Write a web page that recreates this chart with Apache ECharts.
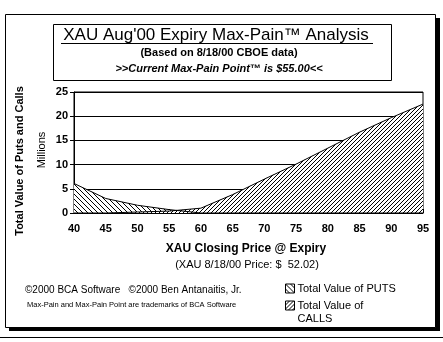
<!DOCTYPE html>
<html>
<head>
<meta charset="utf-8">
<script src="https://cdn.jsdelivr.net/npm/echarts@6/dist/echarts.min.js"></script>
<style>
  html, body { margin: 0; padding: 0; background: #fff; }
  #chart { width: 443px; height: 342px; }
</style>
</head>
<body>
<div id="chart"></div>
<script>
// strike prices on the x axis
const prices = ['40', '45', '50', '55', '60', '65', '70', '75', '80', '85', '90', '95'];
// total value in millions
const putsValue = [6.1, 3.0, 1.6, 0.7, 0, 0, 0, 0, 0, 0, 0, 0];
const callsValue = [0, 0, 0.2, 0.4, 1.0, 3.8, 7.0, 10.1, 13.4, 16.7, 19.7, 22.5];
const yTicks = { min: 0, max: 25, interval: 5 };

// little hatch tiles, like the old excel fills
function hatch(size, forward) {
    const c = document.createElement('canvas');
    c.width = size;
    c.height = size;
    const ctx = c.getContext('2d');
    ctx.fillStyle = '#fff';
    ctx.fillRect(0, 0, size, size);
    ctx.fillStyle = '#000';
    for (let i = 0; i < size; i++) {
        ctx.fillRect(i, forward ? size - 1 - i : i, 1, 1);
    }
    return { image: c, repeat: 'repeat' };
}

const putsFill = hatch(5, false);
const callsFill = hatch(4, true);

const font = 'Liberation Sans, Arial, sans-serif';
const myChart = echarts.init(document.getElementById('chart'), null, { renderer: 'canvas' });

const option = {
    animation: false,
    backgroundColor: '#fff',
    grid: {
        left: 74,
        right: 20,
        top: 92,
        bottom: 129,
        show: true,
        borderColor: '#000',
        borderWidth: 1
    },
    xAxis: {
        type: 'category',
        data: prices,
        boundaryGap: false,
        axisLine: { lineStyle: { color: '#000', width: 1 } },
        axisTick: { inside: true, length: 4, lineStyle: { color: '#000' } },
        axisLabel: {
            color: '#000',
            fontFamily: font,
            fontWeight: 'bold',
            fontSize: 11,
            margin: 10
        },
        splitLine: { show: false }
    },
    yAxis: {
        type: 'value',
        min: yTicks.min,
        max: yTicks.max,
        interval: yTicks.interval,
        axisLine: { show: true, lineStyle: { color: '#000', width: 1 } },
        axisTick: { show: true, length: 4, lineStyle: { color: '#000' } },
        axisLabel: {
            color: '#000',
            fontFamily: font,
            fontWeight: 'bold',
            fontSize: 11,
            margin: 6
        },
        splitLine: { show: true, lineStyle: { color: '#000', width: 1 } }
    },
    legend: {
        orient: 'vertical',
        left: 285,
        top: 282,
        width: 140,
        height: 120,
        padding: 0,
        itemWidth: 9,
        itemHeight: 9,
        itemGap: -9,
        icon: 'rect',
        textStyle: { color: '#000', fontFamily: font, fontSize: 11, lineHeight: 13, padding: [0, 0, 0, -2] },
        // the calls label wraps; a blank first line keeps the box beside "Total Value of"
        formatter: name => name === 'Total Value of CALLS' ? '\nTotal Value of\nCALLS' : name,
        data: [
            { name: 'Total Value of PUTS', itemStyle: { color: putsFill, borderColor: '#000', borderWidth: 1 } },
            { name: 'Total Value of CALLS', itemStyle: { color: callsFill, borderColor: '#000', borderWidth: 1 } }
        ]
    },
    series: [
        {
            name: 'Total Value of PUTS',
            type: 'line',
            data: putsValue,
            showSymbol: false,
            lineStyle: { color: '#000', width: 1 },
            itemStyle: { color: '#000' },
            areaStyle: { color: putsFill, opacity: 1 }
        },
        {
            name: 'Total Value of CALLS',
            type: 'line',
            data: callsValue,
            showSymbol: false,
            lineStyle: { color: '#000', width: 1 },
            itemStyle: { color: '#000' },
            areaStyle: { color: callsFill, opacity: 1 }
        }
    ],
    graphic: [
        // outer frame with drop shadow
        { type: 'rect', shape: { x: 9, y: 18, width: 431, height: 313 }, style: { fill: '#000' }, z: -10 },
        { type: 'rect', shape: { x: 5.5, y: 14.5, width: 430, height: 313 }, style: { fill: '#fff', stroke: '#000', lineWidth: 1 }, z: -9 },
        { type: 'line', shape: { x1: 0, y1: 337.5, x2: 443, y2: 337.5 }, style: { stroke: '#000', lineWidth: 1 } },
        // title box
        { type: 'rect', shape: { x: 53.5, y: 24.5, width: 338, height: 56 }, style: { fill: '#fff', stroke: '#000', lineWidth: 1 } },
        {
            type: 'text', x: 216, y: 35,
            style: { text: 'XAU Aug\'00 Expiry Max-Pain\u2122 Analysis', font: '17px ' + font, fill: '#000', align: 'center', verticalAlign: 'middle' }
        },
        { type: 'line', shape: { x1: 61, y1: 43.5, x2: 373, y2: 43.5 }, style: { stroke: '#000', lineWidth: 1 } },
        {
            type: 'text', x: 219, y: 53,
            style: { text: '(Based on 8/18/00 CBOE data)', font: 'bold 11px ' + font, fill: '#000', align: 'center', verticalAlign: 'middle' }
        },
        {
            type: 'text', x: 219, y: 69,
            style: { text: '>>Current Max-Pain Point\u2122 is $55.00<<', font: 'italic bold 11px ' + font, fill: '#000', align: 'center', verticalAlign: 'middle' }
        },
        // y axis titles
        {
            type: 'text', x: 20, y: 161, rotation: Math.PI / 2,
            style: { text: 'Total Value of Puts and Calls', font: 'bold 11px ' + font, fill: '#000', align: 'center', verticalAlign: 'middle' }
        },
        {
            type: 'text', x: 42, y: 150, rotation: Math.PI / 2,
            style: { text: 'Millions', font: '11px ' + font, fill: '#000', align: 'center', verticalAlign: 'middle' }
        },
        // x axis titles
        {
            type: 'text', x: 246, y: 249,
            style: { text: 'XAU Closing Price @ Expiry', font: 'bold 12px ' + font, fill: '#000', align: 'center', verticalAlign: 'middle' }
        },
        {
            type: 'text', x: 247, y: 265,
            style: { text: '(XAU 8/18/00 Price: $  52.02)', font: '11px ' + font, fill: '#000', align: 'center', verticalAlign: 'middle' }
        },
        // footer
        {
            type: 'text', x: 25, y: 290,
            style: { text: '\u00a92000 BCA Software   \u00a92000 Ben Antanaitis, Jr.', font: '10px ' + font, fill: '#000', verticalAlign: 'middle' }
        },
        {
            type: 'text', x: 27, y: 305,
            style: { text: 'Max-Pain and Max-Pain Point are trademarks of BCA Software', font: '7.5px ' + font, fill: '#000', verticalAlign: 'middle' }
        }
    ]
};

myChart.setOption(option);
window.addEventListener('resize', myChart.resize);
</script>
</body>
</html>
